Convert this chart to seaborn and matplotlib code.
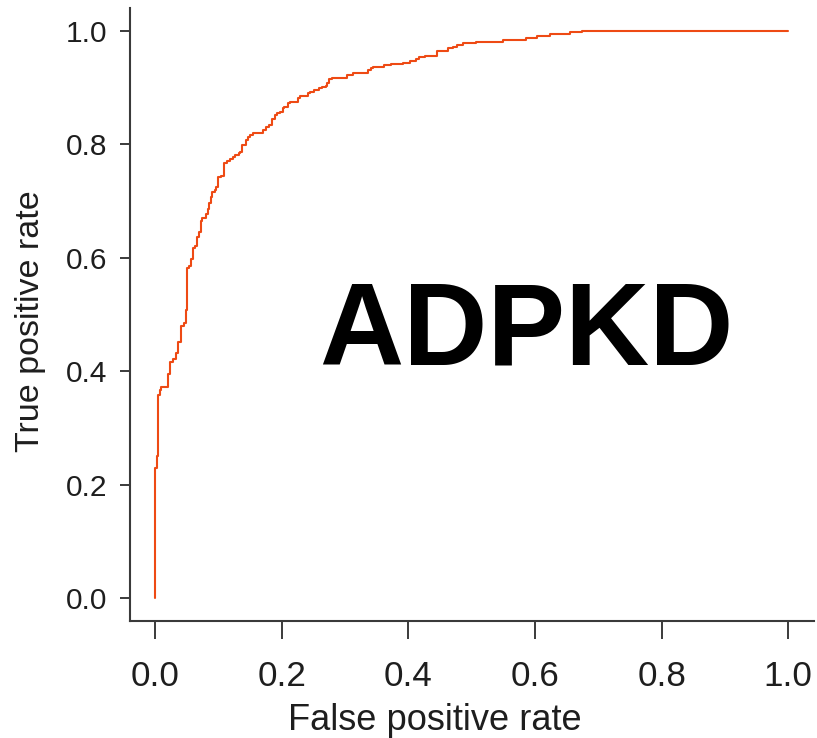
import matplotlib
matplotlib.use("Agg")
import matplotlib.pyplot as plt
from matplotlib import font_manager
import seaborn as sns
import pandas as pd

# ROC curve step points (jump positions): false positive rate / true positive rate
fpr = [0.000, 0.000, 0.003, 0.005, 0.008, 0.009, 0.021, 0.024, 0.028, 0.033,
       0.036, 0.041, 0.046, 0.049, 0.051, 0.054, 0.057, 0.060, 0.063, 0.066,
       0.069, 0.072, 0.075, 0.080, 0.083, 0.086, 0.088, 0.090, 0.094, 0.097,
       0.100, 0.105, 0.109, 0.113, 0.118, 0.123, 0.126, 0.132, 0.135, 0.138,
       0.143, 0.147, 0.150, 0.155, 0.170, 0.175, 0.180, 0.184, 0.189, 0.192,
       0.197, 0.202, 0.204, 0.210, 0.213, 0.226, 0.229, 0.242, 0.245, 0.251,
       0.259, 0.263, 0.270, 0.272, 0.275, 0.279, 0.303, 0.313, 0.336, 0.341,
       0.345, 0.362, 0.372, 0.392, 0.402, 0.412, 0.417, 0.426, 0.446, 0.462,
       0.471, 0.477, 0.487, 0.507, 0.549, 0.586, 0.603, 0.624, 0.655, 0.675,
       1.000]
tpr = [0.000, 0.229, 0.250, 0.358, 0.367, 0.372, 0.395, 0.416, 0.421, 0.432,
       0.451, 0.479, 0.485, 0.507, 0.581, 0.585, 0.597, 0.617, 0.620, 0.636,
       0.645, 0.664, 0.670, 0.677, 0.685, 0.696, 0.706, 0.715, 0.719, 0.724,
       0.742, 0.744, 0.767, 0.770, 0.774, 0.777, 0.781, 0.784, 0.786, 0.798,
       0.807, 0.812, 0.816, 0.819, 0.825, 0.830, 0.833, 0.844, 0.851, 0.855,
       0.856, 0.863, 0.865, 0.872, 0.874, 0.881, 0.885, 0.890, 0.892, 0.895,
       0.899, 0.900, 0.902, 0.907, 0.915, 0.916, 0.922, 0.925, 0.930, 0.934,
       0.936, 0.939, 0.941, 0.943, 0.946, 0.950, 0.953, 0.955, 0.964, 0.969,
       0.971, 0.974, 0.978, 0.980, 0.984, 0.987, 0.990, 0.994, 0.997, 1.000,
       1.000]

tick_values = [0.0, 0.2, 0.4, 0.6, 0.8, 1.0]
tick_labels = ["0.0", "0.2", "0.4", "0.6", "0.8", "1.0"]
x_title = "False positive rate"
y_title = "True positive rate"
annotation = "ADPKD"

sns.set_theme(style="white")
plt.rcParams["font.family"] = ["Liberation Sans", "DejaVu Sans"]

available = {f.name for f in font_manager.fontManager.ttflist}
narrow = "Liberation Sans Narrow" if "Liberation Sans Narrow" in available else "Liberation Sans"
narrow_scale = 1.0 if narrow == "Liberation Sans Narrow" else 0.87

axis_color = "#3a3a3a"
text_color = "#1e1e1e"

fig = plt.figure(figsize=(8.17, 7.38), dpi=100)
ax = fig.add_axes([0.1591, 0.1585, 0.8372, 0.8306])

df = pd.DataFrame({"fpr": fpr, "tpr": tpr})
sns.lineplot(data=df, x="fpr", y="tpr", ax=ax, estimator=None, sort=False,
             drawstyle="steps-post", color="#ee4a14", linewidth=1.5)

ax.set_xlim(-0.0395, 1.0406)
ax.set_ylim(-0.0405, 1.0396)

ax.set_xticks(tick_values)
ax.set_xticklabels(tick_labels, fontfamily=narrow, fontsize=29 * narrow_scale,
                   color=text_color)
ax.set_yticks(tick_values)
ax.set_yticklabels(tick_labels, fontsize=21.5, color=text_color)

ax.tick_params(axis="x", direction="out", length=13, width=1.4, color=axis_color,
               pad=15, bottom=True)
ax.tick_params(axis="y", direction="out", length=7.5, width=1.4, color=axis_color,
               pad=9, left=True)

for side in ["top", "right"]:
    ax.spines[side].set_visible(False)
for side in ["left", "bottom"]:
    ax.spines[side].set_color(axis_color)
    ax.spines[side].set_linewidth(1.5)

ax.set_xlabel(x_title, fontfamily=narrow, fontsize=30 * narrow_scale,
              color=text_color, va="center")
ax.xaxis.set_label_coords(0.446, -0.162)
ax.set_ylabel(y_title, fontsize=24.5, color=text_color, va="center")
ax.yaxis.set_label_coords(-0.146, 0.49)

ax.text(0.587, 0.411, annotation, fontsize=84, fontweight="bold", color="black",
        ha="center", va="baseline")

ax.grid(False)
fig.savefig("out.png", dpi=100, facecolor="white")
